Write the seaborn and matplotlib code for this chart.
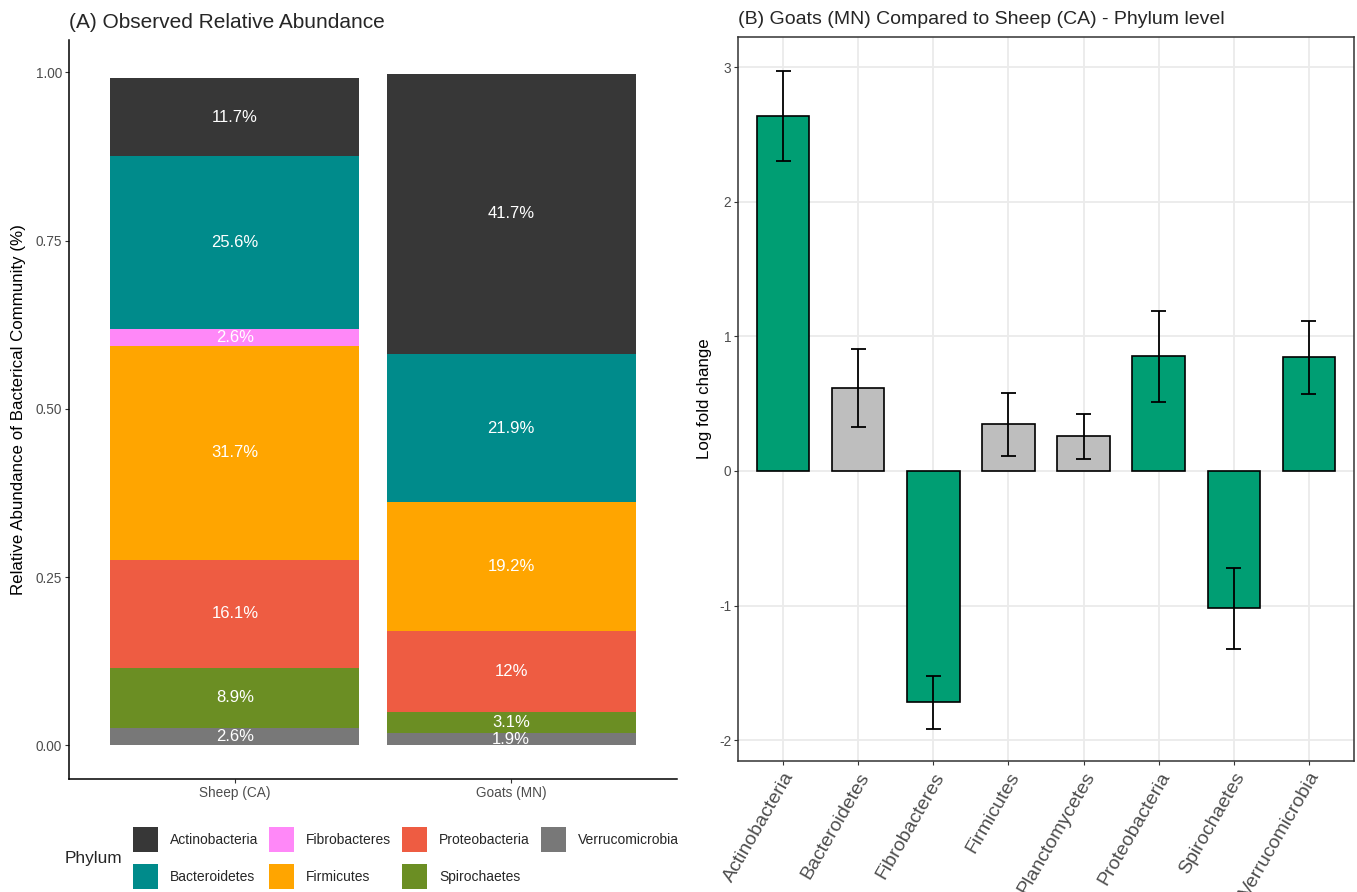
import matplotlib
matplotlib.use("Agg")
import matplotlib.pyplot as plt
from matplotlib.patches import Patch
import numpy as np
import pandas as pd
import seaborn as sns

# ---- Panel A: relative abundance per host group (percent) ----
groups = ["Sheep (CA)", "Goats (MN)"]
phyla = ["Actinobacteria", "Bacteroidetes", "Fibrobacteres", "Firmicutes",
         "Proteobacteria", "Spirochaetes", "Verrucomicrobia"]
sheep_pct = [11.7, 25.6, 2.6, 31.7, 16.1, 8.9, 2.6]
goats_pct = [41.7, 21.9, 0.0, 19.2, 12.0, 3.1, 1.9]
phylum_colors = ["#373737", "#008B8B", "#FF88F8", "#FFA500",
                 "#EE5C42", "#6B8E23", "#787878"]

# ---- Panel B: log fold change, goats vs sheep ----
lfc_phyla = ["Actinobacteria", "Bacteroidetes", "Fibrobacteres", "Firmicutes",
             "Planctomycetes", "Proteobacteria", "Spirochaetes", "Verrucomicrobia"]
lfc = [2.64, 0.616, -1.719, 0.348, 0.26, 0.851, -1.02, 0.847]
lfc_low = [2.303, 0.325, -1.918, 0.109, 0.092, 0.514, -1.32, 0.573]
lfc_high = [2.97, 0.903, -1.521, 0.583, 0.427, 1.186, -0.72, 1.115]
significant = [True, False, True, False, False, True, True, True]

sns.set_theme(style="white")
plt.rcParams["font.family"] = ["Liberation Sans", "DejaVu Sans"]
plt.rcParams["axes.unicode_minus"] = False

W, H = 1357, 892
fig = plt.figure(figsize=(W / 100, H / 100), dpi=100)
ax1 = fig.add_axes([69 / W, 1 - 779 / H, 608 / W, 739 / H])
ax2 = fig.add_axes([738 / W, 1 - 761 / H, 616 / W, 724 / H])

tick_grey = "#4D4D4D"
line_grey = "#333333"

# ---------------- Panel A ----------------
long_df = pd.DataFrame({
    "group": np.repeat(groups, len(phyla)),
    "phylum": phyla * len(groups),
    "pct": sheep_pct + goats_pct,
})
long_df["frac"] = long_df["pct"] / 100.0
long_df["group"] = pd.Categorical(long_df["group"], categories=groups, ordered=True)

sns.histplot(data=long_df, x="group", weights="frac", hue="phylum",
             hue_order=phyla, palette=dict(zip(phyla, phylum_colors)),
             multiple="stack", discrete=True, shrink=0.9, alpha=1,
             linewidth=0, legend=False, ax=ax1)

# percentage labels centred in each stacked segment
for gi, g in enumerate(groups):
    vals = long_df.loc[long_df["group"] == g].set_index("phylum").loc[phyla, "pct"].values
    base = 0.0
    for v in vals[::-1]:
        if v > 0:
            ax1.text(gi, (base + v / 2) / 100.0, f"{v:g}%", ha="center", va="center",
                     color="white", fontsize=12)
        base += v

ax1.set_xlim(-0.6, 1.6)
ax1.set_ylim(-0.0499, 1.0479)
ax1.set_xticks(range(len(groups)))
ax1.set_xticklabels(groups)
ax1.set_yticks([0, 0.25, 0.5, 0.75, 1.0])
ax1.set_yticklabels(["0.00", "0.25", "0.50", "0.75", "1.00"])
ax1.set_xlabel("")
ax1.set_ylabel("Relative Abundance of Bacterical Community (%)", fontsize=12.2,
               color="black", labelpad=7)
for s in ["top", "right"]:
    ax1.spines[s].set_visible(False)
for s in ["left", "bottom"]:
    ax1.spines[s].set_color("black")
    ax1.spines[s].set_linewidth(1.1)
ax1.tick_params(axis="both", length=3, width=0.8, color=line_grey,
                labelsize=9.8, labelcolor=tick_grey, pad=2, left=True, bottom=True)
ax1.set_title("(A) Observed Relative Abundance", loc="left", fontsize=15, pad=9)

# legend with the title placed on the left
handles = [Patch(facecolor=c, edgecolor="none", label=p) for p, c in zip(phyla, phylum_colors)]
fig.legend(handles=handles, ncol=4, loc="upper left",
           bbox_to_anchor=(133 / W, 1 - 827 / H), frameon=False, fontsize=10,
           handlelength=1.8, handleheight=2.39, handletextpad=0.85,
           columnspacing=0.8, labelspacing=0.86, borderpad=0, borderaxespad=0)
fig.text(65 / W, 1 - 858 / H, "Phylum", fontsize=12.4, ha="left", va="center")

# ---------------- Panel B ----------------
lfc_df = pd.DataFrame({
    "phylum": lfc_phyla,
    "lfc": lfc,
    "sig": ["yes" if s else "no" for s in significant],
})
sns.barplot(data=lfc_df, x="phylum", y="lfc", hue="sig", order=lfc_phyla,
            palette={"yes": "#009E73", "no": "#BEBEBE"}, dodge=False, width=0.7,
            edgecolor="black", linewidth=1.2, saturation=1, legend=False, ax=ax2,
            zorder=2)

xpos = np.arange(len(lfc_phyla))
ax2.vlines(xpos, lfc_low, lfc_high, color="black", linewidth=1.3, zorder=3)
ax2.hlines(lfc_low, xpos - 0.1, xpos + 0.1, color="black", linewidth=1.3, zorder=3)
ax2.hlines(lfc_high, xpos - 0.1, xpos + 0.1, color="black", linewidth=1.3, zorder=3)

ax2.set_xlim(-0.6, len(lfc_phyla) - 0.4)
ax2.set_ylim(-2.155, 3.225)
ax2.set_yticks(range(-2, 4))
ax2.set_yticklabels([str(v) for v in range(-2, 4)])
ax2.set_xticks(xpos)
ax2.set_xticklabels(lfc_phyla, rotation=60, ha="right", va="top",
                    rotation_mode="anchor", fontsize=14, color=tick_grey)
ax2.set_xlabel("")
ax2.set_ylabel("Log fold change", fontsize=12.2, color="black", labelpad=5)
ax2.set_axisbelow(True)
ax2.grid(True, color="#EBEBEB", linewidth=1.3)
for s in ax2.spines.values():
    s.set_visible(True)
    s.set_color(line_grey)
    s.set_linewidth(1.1)
ax2.tick_params(axis="y", length=3, width=0.8, color=line_grey, labelsize=9.8,
                labelcolor=tick_grey, pad=2, left=True)
ax2.tick_params(axis="x", length=3, width=0.8, color=line_grey, pad=3, bottom=True)
ax2.set_title("(B) Goats (MN) Compared to Sheep (CA) - Phylum level", loc="left",
              fontsize=14, pad=9)

fig.savefig("out.png", dpi=100, facecolor="white")
